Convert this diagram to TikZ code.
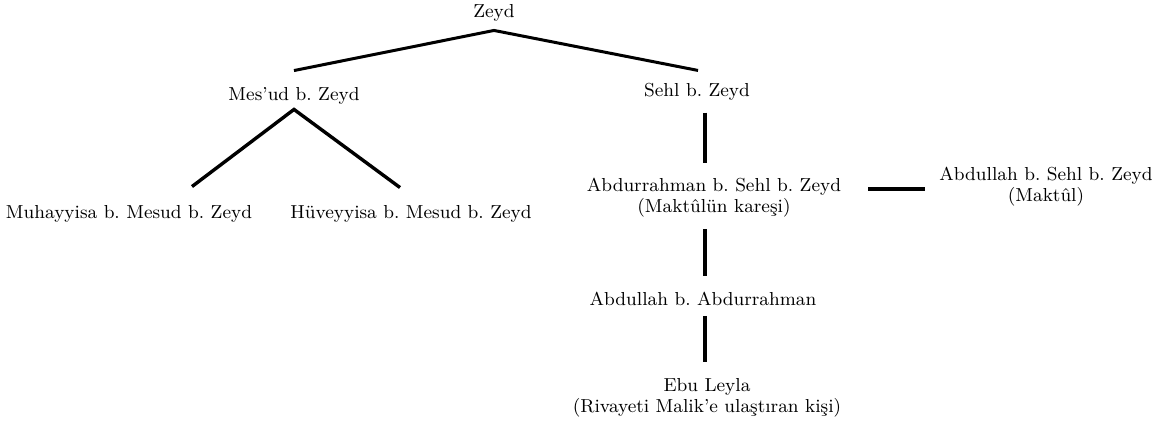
\documentclass[tikz,border=0pt]{standalone}
\usepackage{fontspec}
\frenchspacing
\begin{document}
\begin{tikzpicture}[x=0.5pt,y=-0.5pt]
        \tikzstyle{person}=[inner sep=0pt, align=center, font=\fontsize{9.4}{10.5}\selectfont]
        \tikzstyle{branch}=[line width=1.5pt]
        \tikzstyle{stem}=[line width=1.8pt]

        \useasboundingbox (0,0) rectangle (1165,426);

        \node[person] (zeyd) at (494,13) {Zeyd};
        \node[person] (mesud) at (294,96) {Mes’ud b. Zeyd};
        \node[person] (sehl) at (697,92) {Sehl b. Zeyd};
        \node[person] (muhay) at (129,214) {Muhayyisa b. Mesud b. Zeyd};
        \node[person] (huvey) at (411,214) {Hüveyyisa b. Mesud b. Zeyd};
        \node[person] (abdurrahman) at (714,197.5) {Abdurrahman b. Sehl b. Zeyd\\(Maktûlün kareşi)};
        \node[person] (maktul) at (1046,186.5) {Abdullah b. Sehl b. Zeyd\\(Maktûl)};
        \node[person] (abdullah) at (703,299) {Abdullah b. Abdurrahman};
        \node[person] (ebuleyla) at (707,397.5) {Ebu Leyla\\(Rivayeti Malik’e ulaştıran kişi)};

        \draw[branch] ([yshift=8.3pt]mesud.north) -- ([yshift=-4.3pt]zeyd.south) -- ([xshift=0.5pt,yshift=6.3pt]sehl.north);
        \draw[branch, line width=1.7pt] ([xshift=31.5pt,yshift=9.3pt]muhay.north) -- ([yshift=-2.3pt]mesud.south) -- ([xshift=-5.5pt,yshift=8.8pt]huvey.north);
        \draw[stem] ([xshift=4pt,yshift=-5.8pt]sehl.south) -- ([xshift=-4.5pt,yshift=7.5pt]abdurrahman.north);
        \draw[stem] ([xshift=-4.5pt,yshift=-6pt]abdurrahman.south) -- ([xshift=1pt,yshift=7.8pt]abdullah.north);
        \draw[stem] ([xshift=1pt,yshift=-4.8pt]abdullah.south) -- ([xshift=-1pt,yshift=8pt]ebuleyla.north);
        \draw[stem, line width=1.6pt] ([xshift=13.5pt,yshift=4.25pt]abdurrahman.east) -- ([xshift=-7pt,yshift=-1.25pt]maktul.west);
\end{tikzpicture}
\end{document}
